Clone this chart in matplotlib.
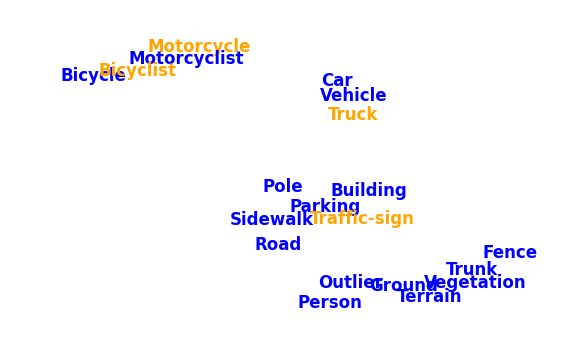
import matplotlib.pyplot as plt

# class names placed at their 2-D embedding positions
labels = ["Car", "Bicycle", "Motorcycle", "Truck", "Vehicle", "Person",
          "Bicyclist", "Motorcyclist", "Road", "Parking", "Sidewalk",
          "Ground", "Building", "Fence", "Vegetation", "Trunk", "Terrain",
          "Pole", "Traffic-sign", "Outlier"]
x_vals = [337, 93, 199, 353, 354, 330, 138, 186, 278, 325, 272,
          404, 369, 510, 475, 472, 430, 283, 362, 351]
y_vals = [86, 81, 52, 120, 101, 308, 76, 64, 250, 212, 225,
          291, 196, 258, 288, 275, 302, 192, 224, 288]
highlight = ["Motorcycle", "Bicyclist", "Truck", "Traffic-sign"]

fig = plt.figure(figsize=(5.62, 3.58), dpi=100)
ax = fig.add_axes([0, 0, 1, 1])

# drawing order decides which label sits on top where they overlap
order = ["Motorcycle", "Motorcyclist", "Bicycle", "Bicyclist", "Car", "Vehicle",
         "Truck", "Pole", "Building", "Parking", "Sidewalk", "Traffic-sign",
         "Road", "Fence", "Trunk", "Outlier", "Ground", "Vegetation",
         "Terrain", "Person"]
for name in order:
    i = labels.index(name)
    color = "orange" if name in highlight else "blue"
    ax.text(x_vals[i], y_vals[i], name, color=color, fontsize=12,
            fontweight="bold", ha="center", va="baseline")

ax.set_xlim(0, 562)
ax.set_ylim(358, 0)
ax.axis("off")
fig.savefig("out.png", dpi=100)
